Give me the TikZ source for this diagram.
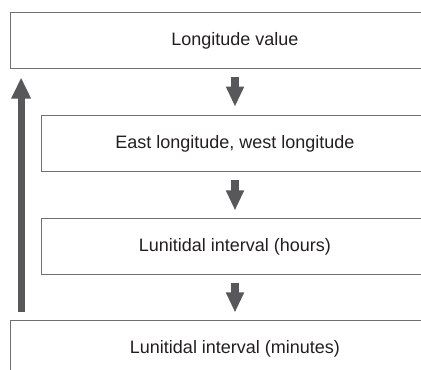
\documentclass[tikz,border=0pt]{standalone}
\usepackage{xcolor}
\usepackage{fontspec}
\setmainfont{Liberation Sans}
\usepackage{tikz}
\usetikzlibrary{arrows.meta}

\definecolor{boxline}{RGB}{112,112,112}
\definecolor{arrowgray}{RGB}{88,88,90}
\definecolor{textgray}{RGB}{35,31,32}

\tikzset{
	stagebox/.style={shape=rectangle, draw=boxline, line width=0.7pt, inner sep=0, minimum height=1.4cm, text=textgray, font=\fontsize{12.8}{15}\selectfont},
	flowarrow/.style={draw=arrowgray, line width=0.19cm, -{Triangle[width=0.42cm, length=0.5cm]}, arrowgray}
}

\begin{document}
\begin{tikzpicture}
	\useasboundingbox (0, 0) rectangle (10.525, 9.25);
	\clip (0, 0) rectangle (10.525, 9.25);
	% Boxes:
	\node[stagebox, minimum width=11.25cm](Longitude) at (5.875, 8.225){Longitude value};
	\node[stagebox, minimum width=9.7cm](EastWest) at (5.875, 5.65){East longitude, west longitude};
	\node[stagebox, minimum width=9.7cm](Hours) at (5.875, 3.075){Lunitidal interval (hours)};
	\node[stagebox, minimum width=11.25cm](Minutes) at (5.875, 0.525){Lunitidal interval (minutes)};
	% Arrows:
	\draw[flowarrow, shorten <=0.2cm, shorten >=0.22cm] (Longitude) -- (EastWest);
	\draw[flowarrow, shorten <=0.2cm, shorten >=0.2cm] (EastWest) -- (Hours);
	\draw[flowarrow, shorten <=0.18cm, shorten >=0.2cm] (Hours) -- (Minutes);
	\draw[flowarrow, line width=0.17cm, -{Triangle[width=0.46cm, length=0.53cm]}] ([xshift=0.29cm, yshift=0.2cm]Minutes.north west) -- ([xshift=0.29cm, yshift=-0.2cm]Longitude.south west);
\end{tikzpicture}
\end{document}
